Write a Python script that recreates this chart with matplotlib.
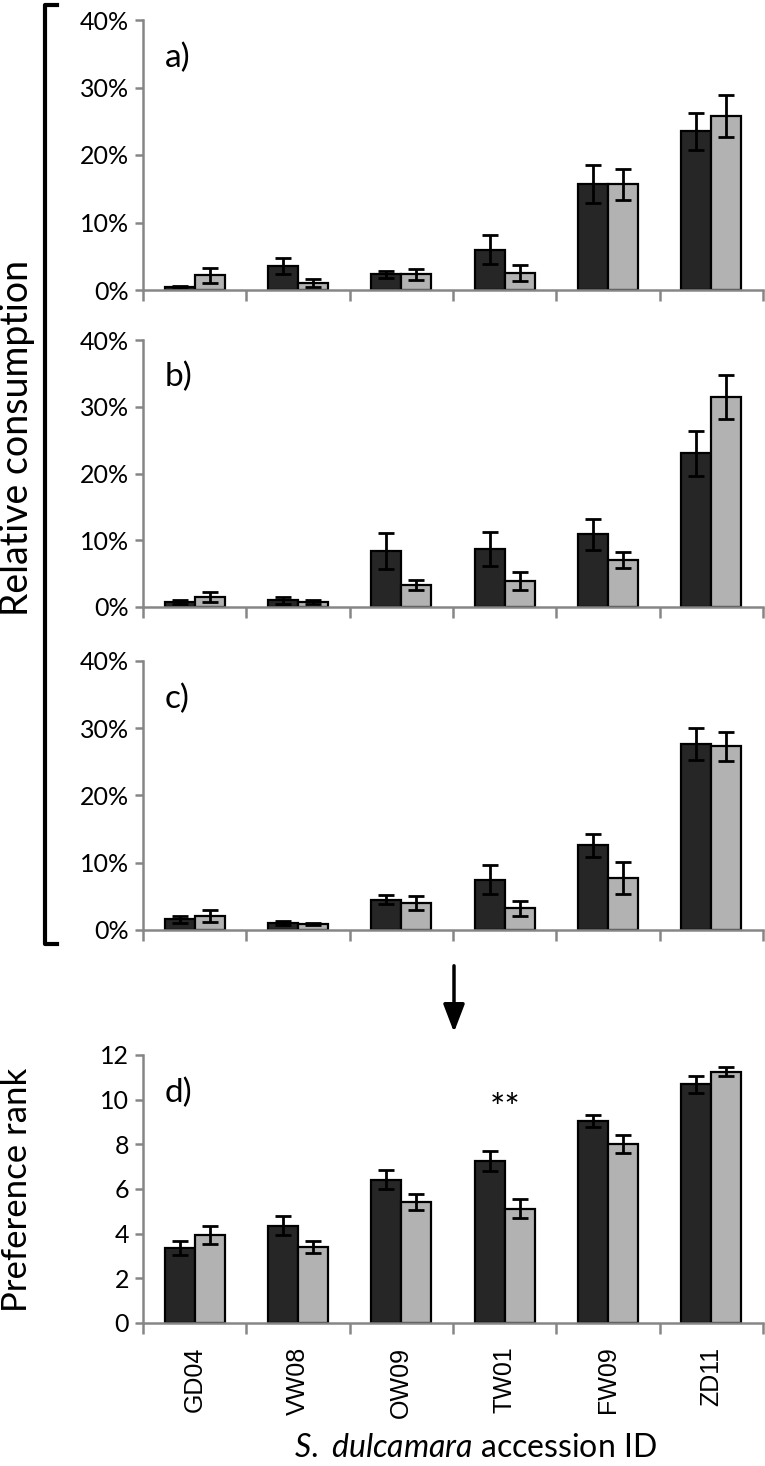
import matplotlib
matplotlib.use("Agg")
import matplotlib.pyplot as plt
import numpy as np
from matplotlib.lines import Line2D

plt.rcParams['font.family'] = ['Lato', 'DejaVu Sans']
plt.rcParams['mathtext.fontset'] = 'custom'
plt.rcParams['mathtext.it'] = 'Lato:italic'
plt.rcParams['mathtext.rm'] = 'Lato'

# accessions (x axis)
accessions = ["GD04", "VW08", "OW09", "TW01", "FW09", "ZD11"]

# relative consumption (fractions), dark and light series, with SE
a_dark = [0.004, 0.036, 0.023, 0.060, 0.157, 0.235]
a_dark_err = [0.002, 0.012, 0.005, 0.022, 0.028, 0.027]
a_light = [0.022, 0.010, 0.023, 0.025, 0.157, 0.258]
a_light_err = [0.011, 0.006, 0.008, 0.012, 0.023, 0.031]

b_dark = [0.007, 0.010, 0.084, 0.087, 0.109, 0.230]
b_dark_err = [0.003, 0.005, 0.027, 0.026, 0.023, 0.033]
b_light = [0.015, 0.008, 0.033, 0.039, 0.071, 0.314]
b_light_err = [0.007, 0.003, 0.007, 0.014, 0.012, 0.033]

c_dark = [0.016, 0.011, 0.045, 0.075, 0.126, 0.277]
c_dark_err = [0.005, 0.003, 0.007, 0.021, 0.017, 0.024]
c_light = [0.021, 0.009, 0.040, 0.032, 0.077, 0.273]
c_light_err = [0.009, 0.002, 0.010, 0.011, 0.024, 0.022]

# preference rank
d_dark = [3.36, 4.35, 6.42, 7.24, 9.05, 10.68]
d_dark_err = [0.31, 0.42, 0.42, 0.45, 0.28, 0.37]
d_light = [3.95, 3.40, 5.41, 5.11, 8.01, 11.26]
d_light_err = [0.40, 0.27, 0.35, 0.42, 0.42, 0.19]

W, H = 765, 1466
fig = plt.figure(figsize=(W / 100, H / 100), dpi=100)

def fx(px):
    return px / W

def fy(py):
    return 1 - py / H

dark_col = "#262626"
light_col = "#b2b2b2"
axis_col = "#868686"
bw = 0.29

def panel(top_px, bottom_px, dark, dark_err, light, light_err, label, pct=True,
          xlabels=False):
    ax = fig.add_axes([fx(143), fy(bottom_px), fx(763) - fx(143),
                       (bottom_px - top_px) / H])
    x = np.arange(len(accessions))
    ekw = dict(ecolor="black", elinewidth=2, capsize=5.5, capthick=2)
    ax.bar(x - bw / 2, dark, bw, color=dark_col, edgecolor="black", linewidth=1.6,
           yerr=dark_err, error_kw=ekw, zorder=2)
    ax.bar(x + bw / 2, light, bw, color=light_col, edgecolor="black", linewidth=1.6,
           yerr=light_err, error_kw=ekw, zorder=2)
    ax.set_xlim(-0.5, 5.5)
    for s in ["top", "right"]:
        ax.spines[s].set_visible(False)
    for s in ["left", "bottom"]:
        ax.spines[s].set_color(axis_col)
        ax.spines[s].set_linewidth(1.8)
    ax.set_xticks(np.arange(-0.5, 6, 1))
    ax.set_xticklabels([])
    ax.tick_params(axis="x", which="major", length=8, width=1.8, color=axis_col,
                   direction="out")
    ax.tick_params(axis="y", length=6, width=1.8, color=axis_col, labelsize=18,
                   pad=4)
    if pct:
        ax.set_ylim(0, 0.4)
        ax.set_yticks([0, 0.1, 0.2, 0.3, 0.4])
        ax.set_yticklabels(["0%", "10%", "20%", "30%", "40%"])
    else:
        ax.set_ylim(0, 12)
        ax.set_yticks(range(0, 13, 2))
    if xlabels:
        ax.set_xticks(x, minor=True)
        ax.set_xticklabels(accessions, minor=True, rotation=90,
                           fontfamily="Liberation Sans", fontsize=18)
        ax.tick_params(axis="x", which="minor", length=0, pad=17)
    ax.text(0.035, 0.86, label, transform=ax.transAxes, fontsize=24,
            va="center", ha="left")
    return ax

panel(20, 290, a_dark, a_dark_err, a_light, a_light_err, "a)")
panel(340, 607, b_dark, b_dark_err, b_light, b_light_err, "b)")
panel(661, 930, c_dark, c_dark_err, c_light, c_light_err, "c)")
axd = panel(1055, 1323, d_dark, d_dark_err, d_light, d_light_err, "d)",
            pct=False, xlabels=True)
axd.text(3, 9.55, "**", ha="center", va="center", fontsize=26)

# bracket grouping panels a-c
fig.add_artist(Line2D([fx(57), fx(45), fx(45), fx(57)],
                      [fy(5), fy(5), fy(944), fy(944)],
                      color="black", linewidth=3, transform=fig.transFigure))

# arrow from consumption to rank
fig.add_artist(plt.Annotation("", xy=(fx(454), fy(1035)), xytext=(fx(454), fy(963)),
                              xycoords="figure fraction", textcoords="figure fraction",
                              arrowprops=dict(arrowstyle="-|>,head_length=1.7,head_width=0.65",
                                              color="black", lw=2.5)))

fig.text(fx(17), fy(438), "Relative consumption", rotation=90, ha="center",
         va="center", fontsize=27)
fig.text(fx(17), fy(1190), "Preference rank", rotation=90, ha="center",
         va="center", fontsize=25)
fig.text(fx(475), fy(1448), "$\\it{S.\\ dulcamara}$ accession ID", ha="center",
         va="center", fontsize=23)

fig.savefig("out.png", dpi=100)
